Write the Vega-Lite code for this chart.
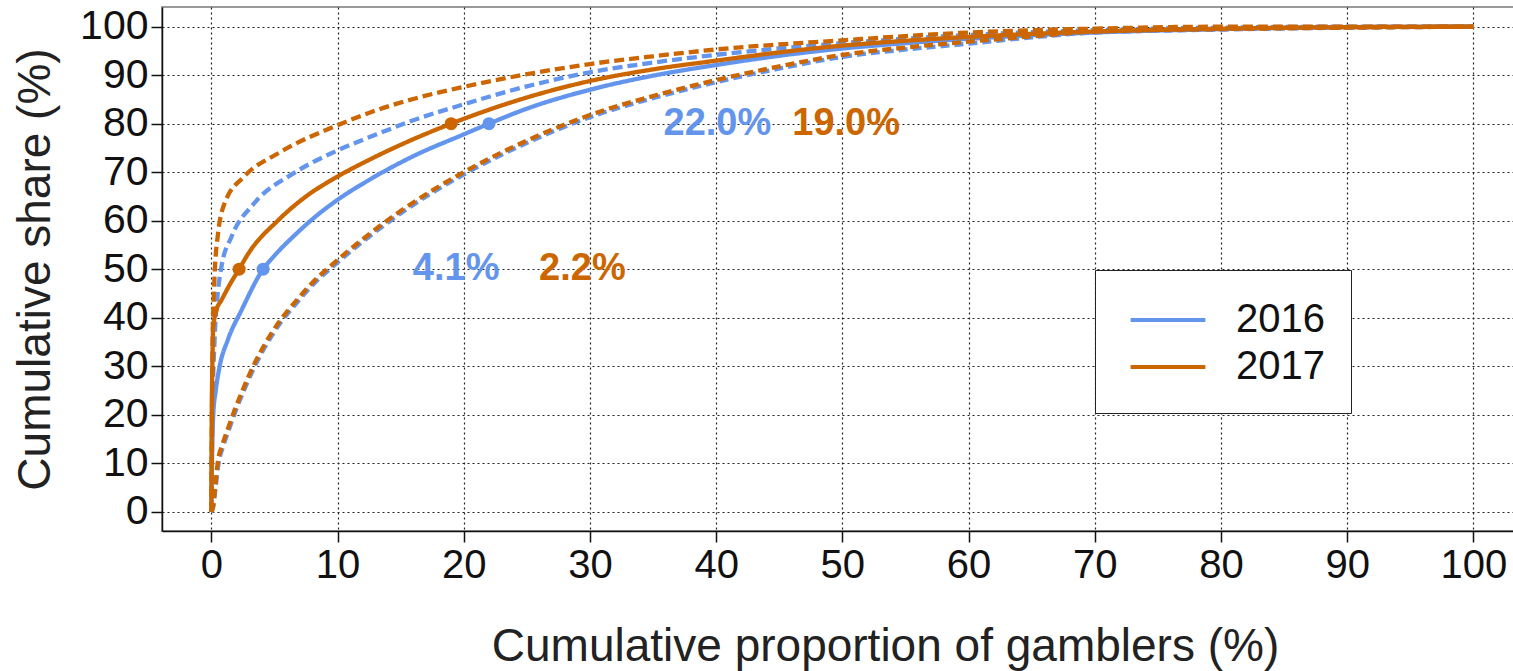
{
  "$schema": "https://vega.github.io/schema/vega-lite/v6.json",
  "width": 1352,
  "height": 524,
  "autosize": {"type": "none"},
  "padding": {"left": 162, "top": 7, "right": 0, "bottom": 140},
  "background": "white",
  "config": {"view": {"stroke": "#999", "strokeWidth": 2}, "font": "Liberation Sans"},
  "datasets": {
    "curves": [
      {"year": "2016", "kind": "lower", "x": 0, "y": 0},
      {"year": "2016", "kind": "lower", "x": 0.15, "y": 1},
      {"year": "2016", "kind": "lower", "x": 0.32, "y": 4.6},
      {"year": "2016", "kind": "lower", "x": 0.55, "y": 9.6},
      {"year": "2016", "kind": "lower", "x": 0.95, "y": 13.6},
      {"year": "2016", "kind": "lower", "x": 1.35, "y": 16.6},
      {"year": "2016", "kind": "lower", "x": 1.9, "y": 20.6},
      {"year": "2016", "kind": "lower", "x": 2.55, "y": 24.8},
      {"year": "2016", "kind": "lower", "x": 3.35, "y": 29.5},
      {"year": "2016", "kind": "lower", "x": 4.35, "y": 34.4},
      {"year": "2016", "kind": "lower", "x": 5.55, "y": 39.2},
      {"year": "2016", "kind": "lower", "x": 6.65, "y": 42.7},
      {"year": "2016", "kind": "lower", "x": 8.05, "y": 46.8},
      {"year": "2016", "kind": "lower", "x": 10.05, "y": 51.5},
      {"year": "2016", "kind": "lower", "x": 12.55, "y": 56.8},
      {"year": "2016", "kind": "lower", "x": 15.05, "y": 61.6},
      {"year": "2016", "kind": "lower", "x": 20.05, "y": 69.6},
      {"year": "2016", "kind": "lower", "x": 25.05, "y": 76.1},
      {"year": "2016", "kind": "lower", "x": 30.05, "y": 81.4},
      {"year": "2016", "kind": "lower", "x": 35.05, "y": 85.3},
      {"year": "2016", "kind": "lower", "x": 40.05, "y": 88.6},
      {"year": "2016", "kind": "lower", "x": 45.05, "y": 91.4},
      {"year": "2016", "kind": "lower", "x": 50.05, "y": 93.8},
      {"year": "2016", "kind": "lower", "x": 55.05, "y": 95.3},
      {"year": "2016", "kind": "lower", "x": 60.05, "y": 96.5},
      {"year": "2016", "kind": "lower", "x": 65, "y": 97.8},
      {"year": "2016", "kind": "lower", "x": 70, "y": 98.8},
      {"year": "2016", "kind": "lower", "x": 80, "y": 99.4},
      {"year": "2016", "kind": "lower", "x": 90, "y": 99.8},
      {"year": "2016", "kind": "lower", "x": 100, "y": 100},

      {"year": "2016", "kind": "upper", "x": 0, "y": 0},
      {"year": "2016", "kind": "upper", "x": 0.08, "y": 20},
      {"year": "2016", "kind": "upper", "x": 0.25, "y": 35},
      {"year": "2016", "kind": "upper", "x": 0.55, "y": 46},
      {"year": "2016", "kind": "upper", "x": 0.8, "y": 50.5},
      {"year": "2016", "kind": "upper", "x": 1.6, "y": 56.7},
      {"year": "2016", "kind": "upper", "x": 3.4, "y": 63.6},
      {"year": "2016", "kind": "upper", "x": 6.6, "y": 69.9},
      {"year": "2016", "kind": "upper", "x": 10, "y": 74.5},
      {"year": "2016", "kind": "upper", "x": 12.9, "y": 77.6},
      {"year": "2016", "kind": "upper", "x": 16, "y": 80.7},
      {"year": "2016", "kind": "upper", "x": 20, "y": 84},
      {"year": "2016", "kind": "upper", "x": 25, "y": 87.7},
      {"year": "2016", "kind": "upper", "x": 30, "y": 90.6},
      {"year": "2016", "kind": "upper", "x": 35, "y": 92.6},
      {"year": "2016", "kind": "upper", "x": 40, "y": 94.2},
      {"year": "2016", "kind": "upper", "x": 50, "y": 96.6},
      {"year": "2016", "kind": "upper", "x": 60, "y": 98.3},
      {"year": "2016", "kind": "upper", "x": 70, "y": 99.3},
      {"year": "2016", "kind": "upper", "x": 80, "y": 99.8},
      {"year": "2016", "kind": "upper", "x": 90, "y": 100},
      {"year": "2016", "kind": "upper", "x": 100, "y": 100},

      {"year": "2016", "kind": "main", "x": 0, "y": 0},
      {"year": "2016", "kind": "main", "x": 0.05, "y": 10},
      {"year": "2016", "kind": "main", "x": 0.15, "y": 20},
      {"year": "2016", "kind": "main", "x": 0.35, "y": 25},
      {"year": "2016", "kind": "main", "x": 0.66, "y": 30},
      {"year": "2016", "kind": "main", "x": 1.3, "y": 35.4},
      {"year": "2016", "kind": "main", "x": 2.4, "y": 41.6},
      {"year": "2016", "kind": "main", "x": 4.1, "y": 50},
      {"year": "2016", "kind": "main", "x": 5, "y": 52.8},
      {"year": "2016", "kind": "main", "x": 6.6, "y": 57},
      {"year": "2016", "kind": "main", "x": 8, "y": 60.3},
      {"year": "2016", "kind": "main", "x": 10, "y": 64.3},
      {"year": "2016", "kind": "main", "x": 12.7, "y": 68.7},
      {"year": "2016", "kind": "main", "x": 16, "y": 73.3},
      {"year": "2016", "kind": "main", "x": 20, "y": 77.8},
      {"year": "2016", "kind": "main", "x": 22, "y": 80},
      {"year": "2016", "kind": "main", "x": 25, "y": 83.1},
      {"year": "2016", "kind": "main", "x": 30, "y": 87},
      {"year": "2016", "kind": "main", "x": 35, "y": 89.9},
      {"year": "2016", "kind": "main", "x": 40, "y": 92.1},
      {"year": "2016", "kind": "main", "x": 45, "y": 94},
      {"year": "2016", "kind": "main", "x": 50, "y": 95.5},
      {"year": "2016", "kind": "main", "x": 55, "y": 96.6},
      {"year": "2016", "kind": "main", "x": 60, "y": 97.5},
      {"year": "2016", "kind": "main", "x": 70, "y": 98.8},
      {"year": "2016", "kind": "main", "x": 80, "y": 99.5},
      {"year": "2016", "kind": "main", "x": 90, "y": 99.9},
      {"year": "2016", "kind": "main", "x": 100, "y": 100},

      {"year": "2017", "kind": "lower", "x": 0, "y": 0},
      {"year": "2017", "kind": "lower", "x": 0.13, "y": 1},
      {"year": "2017", "kind": "lower", "x": 0.3, "y": 5},
      {"year": "2017", "kind": "lower", "x": 0.5, "y": 10},
      {"year": "2017", "kind": "lower", "x": 0.9, "y": 14},
      {"year": "2017", "kind": "lower", "x": 1.3, "y": 17},
      {"year": "2017", "kind": "lower", "x": 1.85, "y": 21},
      {"year": "2017", "kind": "lower", "x": 2.5, "y": 25.2},
      {"year": "2017", "kind": "lower", "x": 3.3, "y": 29.9},
      {"year": "2017", "kind": "lower", "x": 4.3, "y": 34.8},
      {"year": "2017", "kind": "lower", "x": 5.5, "y": 39.6},
      {"year": "2017", "kind": "lower", "x": 6.6, "y": 43.1},
      {"year": "2017", "kind": "lower", "x": 8, "y": 47.2},
      {"year": "2017", "kind": "lower", "x": 10, "y": 51.9},
      {"year": "2017", "kind": "lower", "x": 12.5, "y": 57.2},
      {"year": "2017", "kind": "lower", "x": 15, "y": 62},
      {"year": "2017", "kind": "lower", "x": 20, "y": 70},
      {"year": "2017", "kind": "lower", "x": 25, "y": 76.5},
      {"year": "2017", "kind": "lower", "x": 30, "y": 81.8},
      {"year": "2017", "kind": "lower", "x": 35, "y": 85.7},
      {"year": "2017", "kind": "lower", "x": 40, "y": 89},
      {"year": "2017", "kind": "lower", "x": 45, "y": 91.8},
      {"year": "2017", "kind": "lower", "x": 50, "y": 94.2},
      {"year": "2017", "kind": "lower", "x": 55, "y": 95.7},
      {"year": "2017", "kind": "lower", "x": 60, "y": 96.9},
      {"year": "2017", "kind": "lower", "x": 65, "y": 98},
      {"year": "2017", "kind": "lower", "x": 70, "y": 99},
      {"year": "2017", "kind": "lower", "x": 80, "y": 99.5},
      {"year": "2017", "kind": "lower", "x": 90, "y": 99.8},
      {"year": "2017", "kind": "lower", "x": 100, "y": 100},

      {"year": "2017", "kind": "upper", "x": 0, "y": 0},
      {"year": "2017", "kind": "upper", "x": 0.05, "y": 20},
      {"year": "2017", "kind": "upper", "x": 0.1, "y": 35},
      {"year": "2017", "kind": "upper", "x": 0.2, "y": 45},
      {"year": "2017", "kind": "upper", "x": 0.3, "y": 51},
      {"year": "2017", "kind": "upper", "x": 0.5, "y": 56.7},
      {"year": "2017", "kind": "upper", "x": 1.05, "y": 63.6},
      {"year": "2017", "kind": "upper", "x": 2.6, "y": 69.1},
      {"year": "2017", "kind": "upper", "x": 5.3, "y": 73.9},
      {"year": "2017", "kind": "upper", "x": 10, "y": 79.7},
      {"year": "2017", "kind": "upper", "x": 12.9, "y": 82.6},
      {"year": "2017", "kind": "upper", "x": 16, "y": 85.1},
      {"year": "2017", "kind": "upper", "x": 20, "y": 87.6},
      {"year": "2017", "kind": "upper", "x": 25, "y": 90.2},
      {"year": "2017", "kind": "upper", "x": 30, "y": 92.3},
      {"year": "2017", "kind": "upper", "x": 35, "y": 93.9},
      {"year": "2017", "kind": "upper", "x": 40, "y": 95.3},
      {"year": "2017", "kind": "upper", "x": 50, "y": 97.2},
      {"year": "2017", "kind": "upper", "x": 60, "y": 98.8},
      {"year": "2017", "kind": "upper", "x": 70, "y": 99.6},
      {"year": "2017", "kind": "upper", "x": 80, "y": 100},
      {"year": "2017", "kind": "upper", "x": 100, "y": 100},

      {"year": "2017", "kind": "main", "x": 0, "y": 0},
      {"year": "2017", "kind": "main", "x": 0.03, "y": 20},
      {"year": "2017", "kind": "main", "x": 0.08, "y": 30},
      {"year": "2017", "kind": "main", "x": 0.15, "y": 38},
      {"year": "2017", "kind": "main", "x": 0.4, "y": 41.5},
      {"year": "2017", "kind": "main", "x": 0.8, "y": 43.6},
      {"year": "2017", "kind": "main", "x": 1.5, "y": 47},
      {"year": "2017", "kind": "main", "x": 2.2, "y": 50},
      {"year": "2017", "kind": "main", "x": 2.9, "y": 53.1},
      {"year": "2017", "kind": "main", "x": 5.3, "y": 60.1},
      {"year": "2017", "kind": "main", "x": 7.5, "y": 65},
      {"year": "2017", "kind": "main", "x": 10, "y": 69.1},
      {"year": "2017", "kind": "main", "x": 12.7, "y": 72.8},
      {"year": "2017", "kind": "main", "x": 16, "y": 76.8},
      {"year": "2017", "kind": "main", "x": 19, "y": 80},
      {"year": "2017", "kind": "main", "x": 20, "y": 81},
      {"year": "2017", "kind": "main", "x": 25, "y": 85.4},
      {"year": "2017", "kind": "main", "x": 30, "y": 88.8},
      {"year": "2017", "kind": "main", "x": 35, "y": 91.2},
      {"year": "2017", "kind": "main", "x": 40, "y": 93},
      {"year": "2017", "kind": "main", "x": 45, "y": 94.7},
      {"year": "2017", "kind": "main", "x": 50, "y": 96.1},
      {"year": "2017", "kind": "main", "x": 55, "y": 97.1},
      {"year": "2017", "kind": "main", "x": 60, "y": 97.9},
      {"year": "2017", "kind": "main", "x": 70, "y": 99},
      {"year": "2017", "kind": "main", "x": 80, "y": 99.6},
      {"year": "2017", "kind": "main", "x": 90, "y": 99.9},
      {"year": "2017", "kind": "main", "x": 100, "y": 100}
    ],
    "marks": [
      {"year": "2016", "x": 4.1, "y": 50, "label": "4.1%", "lx": 19.4, "ly": 50},
      {"year": "2016", "x": 22.0, "y": 80, "label": "22.0%", "lx": 40.1, "ly": 80},
      {"year": "2017", "x": 2.2, "y": 50, "label": "2.2%", "lx": 29.4, "ly": 50},
      {"year": "2017", "x": 19.0, "y": 80, "label": "19.0%", "lx": 50.3, "ly": 80}
    ]
  },
  "layer": [
    {
      "data": {"name": "curves"},
      "mark": {"type": "line", "strokeWidth": 4.3, "strokeCap": "butt", "interpolate": "monotone", "clip": true},
      "encoding": {
        "x": {
          "field": "x", "type": "quantitative",
          "scale": {"domain": [-3.91, 103.22], "nice": false, "zero": false},
          "axis": {
            "values": [0, 10, 20, 30, 40, 50, 60, 70, 80, 90, 100],
            "grid": true, "gridColor": "#222", "gridDash": [2, 3], "gridWidth": 1.2,
            "domainColor": "#111", "domainWidth": 1.5,
            "tickColor": "#111", "tickSize": 11, "tickWidth": 1.5,
            "labelFontSize": 40, "labelColor": "#111", "labelPadding": 3,
            "labelFlush": false, "labelOverlap": false,
            "title": "Cumulative proportion of gamblers (%)",
            "titleFontSize": 46, "titleFontWeight": "normal", "titleColor": "#222",
            "titleX": 723, "titleY": 129, "titleBaseline": "alphabetic", "titleAlign": "center"
          }
        },
        "y": {
          "field": "y", "type": "quantitative",
          "scale": {"domain": [-3.98, 104.06], "nice": false, "zero": false},
          "axis": {
            "values": [0, 10, 20, 30, 40, 50, 60, 70, 80, 90, 100],
            "grid": true, "gridColor": "#222", "gridDash": [2, 3], "gridWidth": 1.2,
            "domainColor": "#111", "domainWidth": 1.5,
            "tickColor": "#111", "tickSize": 11, "tickWidth": 1.5,
            "labelFontSize": 41, "labelColor": "#111", "labelPadding": 3,
            "labelFlush": false, "labelOverlap": false,
            "title": "Cumulative share (%)",
            "titleFontSize": 46, "titleFontWeight": "normal", "titleColor": "#222",
            "titlePadding": 20
          }
        },
        "color": {
          "field": "year", "type": "nominal",
          "scale": {"domain": ["2016", "2017"], "range": ["#6495ED", "#CC6600"]},
          "legend": {
            "title": null, "orient": "none", "legendX": 933, "legendY": 263,
            "symbolType": "M-1.7,0H1.7", "symbolSize": 1936, "symbolStrokeWidth": 4,
            "symbolOffset": 23,
            "labelFontSize": 40, "labelColor": "#111", "labelOffset": 44,
            "padding": 26, "rowPadding": 3,
            "strokeColor": "#222", "fillColor": "white"
          }
        },
        "strokeDash": {
          "field": "kind", "type": "nominal",
          "scale": {"domain": ["main", "upper", "lower"], "range": [[1, 0], [10, 5], [9, 5]]},
          "legend": null
        }
      }
    },
    {
      "data": {"name": "marks"},
      "transform": [{"filter": "datum.year === '2016'"}],
      "mark": {"type": "point", "filled": true, "size": 170, "opacity": 1, "color": "#6495ED"},
      "encoding": {
        "x": {"field": "x", "type": "quantitative"},
        "y": {"field": "y", "type": "quantitative"}
      }
    },
    {
      "data": {"name": "marks"},
      "transform": [{"filter": "datum.year === '2017'"}],
      "mark": {"type": "point", "filled": true, "size": 170, "opacity": 1, "color": "#CC6600"},
      "encoding": {
        "x": {"field": "x", "type": "quantitative"},
        "y": {"field": "y", "type": "quantitative"}
      }
    },
    {
      "data": {"name": "marks"},
      "transform": [{"filter": "datum.year === '2016'"}],
      "mark": {"type": "text", "fontSize": 38, "fontWeight": "bold", "font": "Liberation Sans", "align": "center", "baseline": "middle", "color": "#6495ED"},
      "encoding": {
        "x": {"field": "lx", "type": "quantitative"},
        "y": {"field": "ly", "type": "quantitative"},
        "text": {"field": "label"}
      }
    },
    {
      "data": {"name": "marks"},
      "transform": [{"filter": "datum.year === '2017'"}],
      "mark": {"type": "text", "fontSize": 38, "fontWeight": "bold", "font": "Liberation Sans", "align": "center", "baseline": "middle", "color": "#CC6600"},
      "encoding": {
        "x": {"field": "lx", "type": "quantitative"},
        "y": {"field": "ly", "type": "quantitative"},
        "text": {"field": "label"}
      }
    }
  ]
}
